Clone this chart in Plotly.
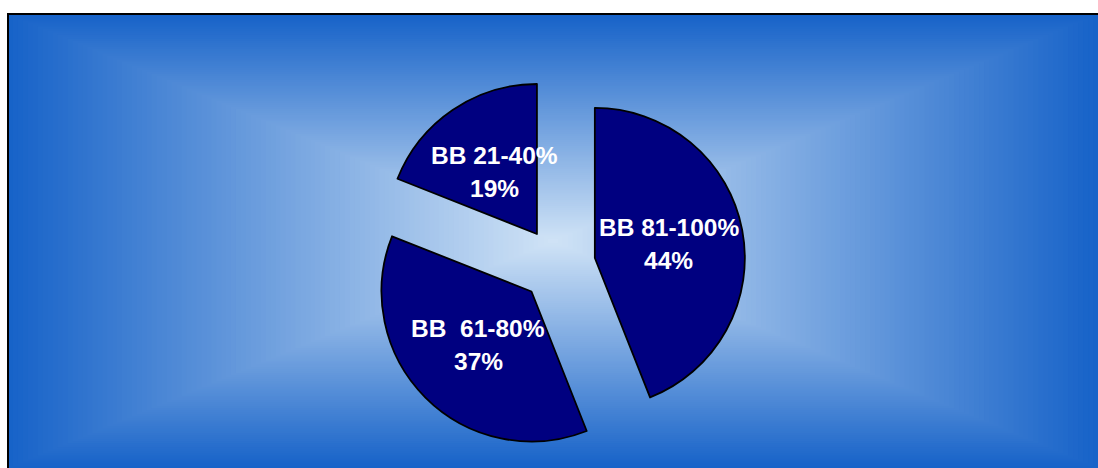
import numpy as np
import plotly.graph_objects as go

# Share of schools by BB range
labels = ["BB 81-100%", "BB\u00a0 61-80%", "BB 21-40%"]
values = [44, 37, 19]
pulls = [0.25, 0.25, 0.25]

W, H = 1098, 468

# Panel frame in pixels (left, top, right, bottom)
FX0, FY0, FX1, FY1 = 8, 14, 1098, 468


def px(x):
    return x / W


def py(y):
    return 1 - y / H


# Rectangular "from centre" gradient: concentric rectangles, light in the middle
edge_rgb = np.array([22, 98, 200])
center_rgb = np.array([208, 227, 246])
cxp, cyp = (FX0 + FX1) / 2, (FY0 + FY1) / 2
hw, hh = (FX1 - FX0) / 2, (FY1 - FY0) / 2
shapes = []
N = 110
for i in range(N):
    f = 1 - i / N
    fm = f - 0.5 / N
    c = center_rgb + (edge_rgb - center_rgb) * fm
    shapes.append(dict(
        type="rect", xref="paper", yref="paper", layer="below",
        x0=px(cxp - hw * f), x1=px(cxp + hw * f),
        y0=py(cyp + hh * f), y1=py(cyp - hh * f),
        fillcolor="rgb(%d,%d,%d)" % tuple(np.round(c).astype(int)),
        line=dict(width=0),
    ))
shapes.append(dict(
    type="rect", xref="paper", yref="paper", layer="above",
    x0=px(FX0), x1=px(FX1 + 6), y0=py(FY1 + 6), y1=py(FY0),
    line=dict(color="black", width=2), fillcolor="rgba(0,0,0,0)",
))

dom_x = [0.2582, 0.7582]
dom_y = [0.0331, 0.8344]

fig = go.Figure(go.Pie(
    labels=labels, values=values, pull=pulls,
    sort=False, direction="clockwise", rotation=0,
    marker=dict(colors=["#000080"] * len(values), line=dict(color="black", width=1.8)),
    textinfo="none", hoverinfo="skip", showlegend=False,
    domain=dict(x=dom_x, y=dom_y),
))

# Label positions: half a radius out along each slice's bisector
rx = W * (dom_x[1] - dom_x[0]) / 2
ry = H * (dom_y[1] - dom_y[0]) / 2
r = min(rx, ry) / (1 + max(pulls))
pcx = W * (dom_x[0] + dom_x[1]) / 2
pcy = H * (1 - (dom_y[0] + dom_y[1]) / 2)
total = sum(values)
LINE_GAP = 33
label_font = dict(family="Liberation Sans, Arial", size=24.5, color="white")
annotations = []
cum = 0
for lab, val, pl in zip(labels, values, pulls):
    mid = (cum + val / 2) / total * 2 * np.pi
    cum += val
    d = (pl + 0.5) * r
    lx = pcx + d * np.sin(mid)
    ly = pcy - d * np.cos(mid)
    for txt, dy in ((lab, -LINE_GAP / 2), ("%d%%" % val, LINE_GAP / 2)):
        annotations.append(dict(
            x=px(lx), y=py(ly + dy), xref="paper", yref="paper",
            text="<b>%s</b>" % txt, showarrow=False,
            xanchor="center", yanchor="middle", font=label_font,
        ))

fig.update_layout(
    width=W, height=H, autosize=False,
    margin=dict(l=0, r=0, t=0, b=0),
    paper_bgcolor="white", plot_bgcolor="white",
    shapes=shapes, annotations=annotations,
)

fig.write_html("out.html", config={"displayModeBar": False})
